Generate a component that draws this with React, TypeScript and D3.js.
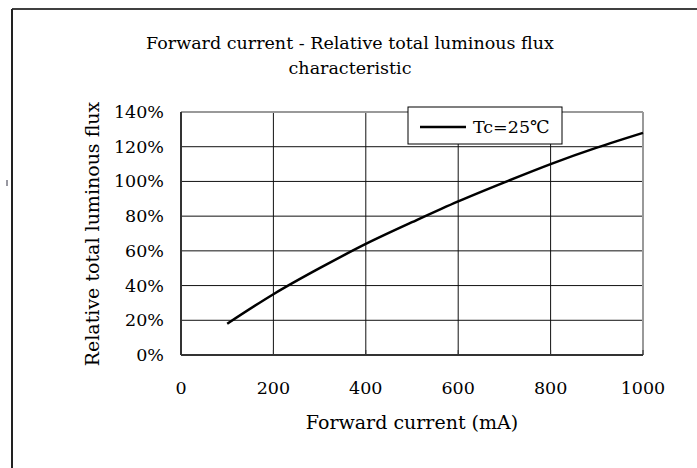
import React from 'react';
import * as d3 from 'd3';

// forward current (mA) vs relative total luminous flux (%)
const currents = [100, 200, 300, 400, 500, 600, 700, 800, 900, 1000];
const fluxValues = [18, 35, 50, 64, 76.5, 88.5, 99.5, 110, 119.5, 128];
const xTicks = [0, 200, 400, 600, 800, 1000];
const yTicks = [0, 20, 40, 60, 80, 100, 120, 140];
const seriesName = 'Tc=25℃';

const W = 697;
const H = 468;
const FONT = '"DejaVu Serif", serif';

export default function App() {
  const x = d3.scaleLinear().domain([0, 1000]).range([181, 643]);
  const y = d3.scaleLinear().domain([0, 140]).range([355, 112]);

  const line = d3.line<number>()
    .x((_, i) => x(currents[i]))
    .y(d => y(d))
    .curve(d3.curveNatural);

  return (
    <div style={{ position: 'absolute', left: 0, top: 0 }}>
      <svg width={W} height={H} style={{ display: 'block', background: '#fff' }}>
        {/* outer frame (top + left only) */}
        <line x1={12} x2={W} y1={9} y2={9} stroke="#000" strokeWidth={1.5} />
        <line x1={12} x2={12} y1={9} y2={H} stroke="#222" strokeWidth={2} />
        <line x1={7} x2={7} y1={180} y2={186} stroke="#334" strokeWidth={1} />

        {/* title */}
        <text x={350} y={49} textAnchor="middle" fontFamily={FONT} fontSize={17.5}>
          Forward current - Relative total luminous flux
        </text>
        <text x={350} y={74} textAnchor="middle" fontFamily={FONT} fontSize={17.5}>
          characteristic
        </text>

        {/* grid */}
        {xTicks.slice(1, -1).map(t => (
          <line key={'gx' + t} x1={x(t)} x2={x(t)} y1={y(140)} y2={y(0)} stroke="#111" strokeWidth={1} />
        ))}
        {yTicks.slice(1, -1).map(t => (
          <line key={'gy' + t} x1={x(0)} x2={x(1000)} y1={y(t)} y2={y(t)} stroke="#111" strokeWidth={1} />
        ))}

        {/* plot frame */}
        <line x1={x(0)} x2={x(1000)} y1={y(140)} y2={y(140)} stroke="#999" strokeWidth={2} />
        <line x1={x(1000)} x2={x(1000)} y1={y(140)} y2={y(0)} stroke="#999" strokeWidth={2} />
        <line x1={x(0)} x2={x(1000)} y1={y(0)} y2={y(0)} stroke="#333" strokeWidth={2} />
        <line x1={x(0)} x2={x(0)} y1={y(140)} y2={y(0)} stroke="#333" strokeWidth={2} />
        {xTicks.map(t => (
          <line key={'tx' + t} x1={x(t)} x2={x(t)} y1={y(0)} y2={y(0) - 5} stroke="#333" strokeWidth={1} />
        ))}

        {/* curve */}
        <path d={line(fluxValues) || ''} fill="none" stroke="#000" strokeWidth={2.5} />

        {/* y tick labels */}
        {yTicks.map(t => (
          <text key={'ly' + t} x={164} y={y(t) + 6} textAnchor="end" fontFamily={FONT} fontSize={17.5}>
            {t}%
          </text>
        ))}
        {/* x tick labels */}
        {xTicks.map(t => (
          <text key={'lx' + t} x={x(t)} y={394} textAnchor="middle" fontFamily={FONT} fontSize={17.5}>
            {t}
          </text>
        ))}

        {/* axis titles */}
        <text x={412} y={429} textAnchor="middle" fontFamily={FONT} fontSize={19}>
          Forward current (mA)
        </text>
        <text transform="translate(99,234) rotate(-90)" textAnchor="middle" fontFamily={FONT} fontSize={19}>
          Relative total luminous flux
        </text>

        {/* legend */}
        <rect x={408} y={107} width={154} height={37} fill="#fff" stroke="#000" strokeWidth={1} />
        <line x1={420} x2={466} y1={127} y2={127} stroke="#000" strokeWidth={2.5} />
        <text x={473} y={133} fontFamily={FONT} fontSize={17.5}>{seriesName}</text>
      </svg>
    </div>
  );
}
